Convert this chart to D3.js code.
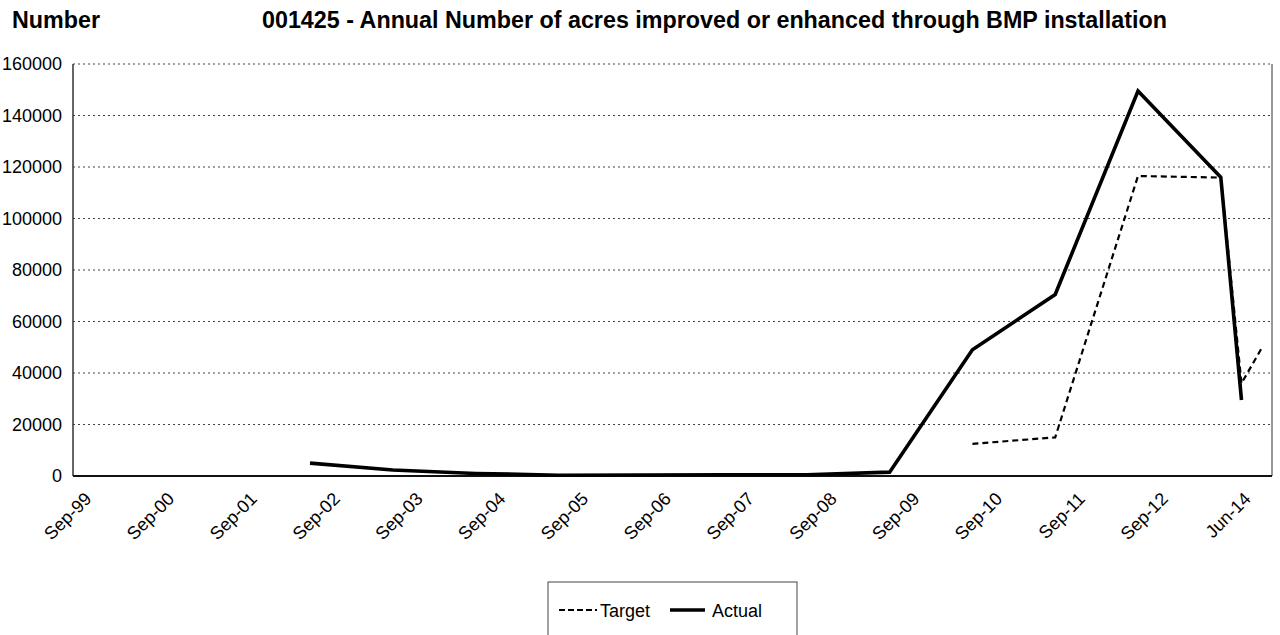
<!DOCTYPE html>
<html>
<head>
<meta charset="utf-8">
<script src="https://cdn.jsdelivr.net/npm/d3@7"></script>
<style>
  html, body { margin: 0; padding: 0; background: #fff; }
  svg { display: block; font-family: "Liberation Sans", Arial, sans-serif; }
</style>
</head>
<body>
<svg id="chart" width="1280" height="635"></svg>
<script>
// ---- data ----
const categories = ["Sep-99","Sep-00","Sep-01","Sep-02","Sep-03","Sep-04","Sep-05","Sep-06","Sep-07","Sep-08","Sep-09","Sep-10","Sep-11","Sep-12","Jun-14"];
const yTicks = [0,20000,40000,60000,80000,100000,120000,140000,160000];
// position on the category axis (index into categories; fractions = points after the last label)
const actualPos    = [3, 4, 5, 6, 7, 8, 9, 10, 11, 12, 13, 14, 14.25];
const actualValues = [5000, 2300, 1000, 300, 400, 500, 500, 1500, 49000, 70500, 149500, 116000, 29500];
const targetPos    = [11, 12, 13, 14, 14.25, 14.5];
const targetValues = [12500, 15000, 116500, 115900, 36000, 50000];
const titleLeft = "Number";
const titleMain = "001425 - Annual Number of acres improved or enhanced through BMP installation";
const seriesNames = ["Target", "Actual"];

// ---- layout ----
const plot = { left: 73, right: 1272, top: 64, bottom: 476 };
const svg = d3.select("#chart");

const x = d3.scaleLinear().domain([0, categories.length - 1]).range([61.6, 1220.8]);
const y = d3.scaleLinear().domain([0, 160000]).range([plot.bottom, plot.top]);

// titles
svg.append("text").attr("x", 12).attr("y", 28).attr("font-size", 23.3).attr("font-weight", "bold").text(titleLeft);
svg.append("text").attr("x", 262).attr("y", 28).attr("font-size", 23.3).attr("font-weight", "bold").text(titleMain);

// gridlines (dotted)
svg.append("g").selectAll("line").data(yTicks.filter(d => d > 0)).join("line")
  .attr("x1", plot.left).attr("x2", plot.right)
  .attr("y1", d => y(d)).attr("y2", d => y(d))
  .attr("stroke", "#444").attr("stroke-width", 1).attr("stroke-dasharray", "2,3");

// plot border: left, right
svg.append("line").attr("x1", plot.left).attr("x2", plot.left).attr("y1", plot.top).attr("y2", plot.bottom)
  .attr("stroke", "#333").attr("stroke-width", 1.5);
svg.append("line").attr("x1", plot.right).attr("x2", plot.right).attr("y1", plot.top).attr("y2", plot.bottom)
  .attr("stroke", "#555").attr("stroke-width", 1.2);

// y axis labels
const yAxis = d3.axisLeft(y).tickValues(yTicks).tickSize(0).tickPadding(11).tickFormat(d3.format("d"));
const gy = svg.append("g").attr("transform", `translate(${plot.left},0)`).call(yAxis);
gy.select(".domain").remove();
gy.selectAll("text").attr("font-size", 18).attr("font-family", "Liberation Sans, Arial, sans-serif").attr("fill", "#000");

// x axis line
svg.append("line").attr("x1", plot.left).attr("x2", plot.right).attr("y1", plot.bottom).attr("y2", plot.bottom)
  .attr("stroke", "#111").attr("stroke-width", 2);

// x labels (rotated)
svg.append("g").selectAll("text").data(categories).join("text")
  .attr("transform", (d, i) => `translate(${x(i) + 31},500) rotate(-45)`)
  .attr("text-anchor", "end")
  .attr("font-size", 18)
  .text(d => d);

// lines
const line = d3.line().x(d => x(d[0])).y(d => y(d[1]));
svg.append("path")
  .datum(targetPos.map((p, i) => [p, targetValues[i]]))
  .attr("d", line).attr("fill", "none").attr("stroke", "#000")
  .attr("stroke-width", 2.2).attr("stroke-dasharray", "6,4");
svg.append("path")
  .datum(actualPos.map((p, i) => [p, actualValues[i]]))
  .attr("d", line).attr("fill", "none").attr("stroke", "#000")
  .attr("stroke-width", 3.6).attr("stroke-linejoin", "miter");

// legend
const lg = svg.append("g");
lg.append("rect").attr("x", 548).attr("y", 582).attr("width", 249).attr("height", 70)
  .attr("fill", "#fff").attr("stroke", "#444").attr("stroke-width", 1);
lg.append("line").attr("x1", 559).attr("x2", 597).attr("y1", 610).attr("y2", 610)
  .attr("stroke", "#000").attr("stroke-width", 2.2).attr("stroke-dasharray", "6,3");
lg.append("text").attr("x", 600).attr("y", 617).attr("font-size", 18).text(seriesNames[0]);
lg.append("line").attr("x1", 670).attr("x2", 705).attr("y1", 610).attr("y2", 610)
  .attr("stroke", "#000").attr("stroke-width", 3.6);
lg.append("text").attr("x", 712).attr("y", 617).attr("font-size", 18).text(seriesNames[1]);
</script>
</body>
</html>
